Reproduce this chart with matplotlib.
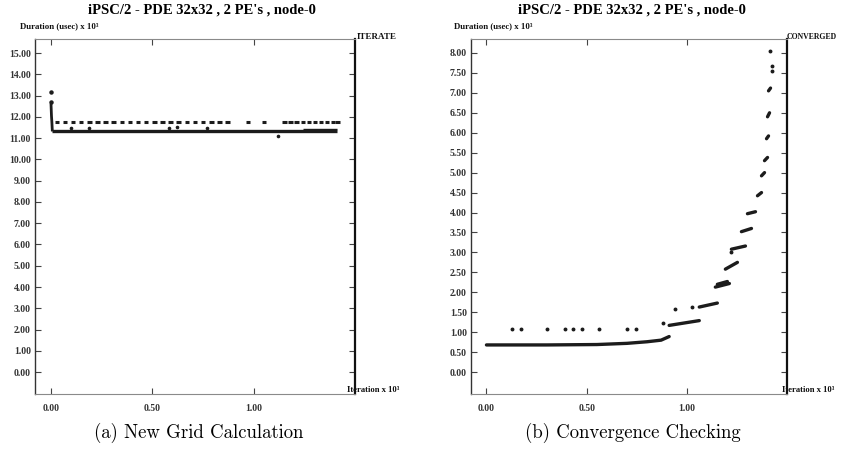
import matplotlib
matplotlib.use('Agg')
import matplotlib.pyplot as plt

# ---- data (iterations x 10^3, duration usec x 10^3) ----
title = "iPSC/2 - PDE 32x32 , 2 PE's , node-0"

# (a) new grid calculation
grid_spike_x = [0.000, 0.000]
grid_spike_y = [13.18, 12.68]
grid_drop_x = [0.002, 0.004, 0.006, 0.008]
grid_drop_y = [12.55, 12.05, 11.75, 11.38]
grid_low_y = 11.35
grid_low_span = [0.005, 1.41]
grid_low2_y = 11.43
grid_low2_span = [1.24, 1.41]
grid_up_y = 11.78
grid_up_x = [0.03, 0.07, 0.11, 0.15, 0.19, 0.23, 0.27, 0.31, 0.35, 0.39,
             0.43, 0.47, 0.51, 0.55, 0.59, 0.63, 0.67, 0.71, 0.75, 0.79,
             0.83, 0.87, 0.97, 1.05, 1.15, 1.18, 1.21, 1.24, 1.27, 1.30,
             1.33, 1.36, 1.39, 1.41]
grid_out_x = [0.10, 0.19, 0.58, 0.62, 0.77, 1.12]
grid_out_y = [11.48, 11.48, 11.48, 11.50, 11.48, 11.12]
grid_yticks = [0, 1, 2, 3, 4, 5, 6, 7, 8, 9, 10, 11, 12, 13, 14, 15]

# (b) convergence checking : short runs of iterations, one list per run
conv_runs_x = [[0.00, 0.30, 0.55, 0.70, 0.80, 0.87, 0.91],
               [0.91, 1.06],
               [1.06, 1.15],
               [1.14, 1.21],
               [1.15, 1.20],
               [1.19, 1.25],
               [1.22, 1.29],
               [1.27, 1.32],
               [1.30, 1.34],
               [1.35, 1.37],
               [1.37, 1.385],
               [1.385, 1.40],
               [1.395, 1.405],
               [1.40, 1.41],
               [1.405, 1.415]]
conv_runs_y = [[0.68, 0.68, 0.69, 0.72, 0.76, 0.80, 0.89],
               [1.17, 1.29],
               [1.63, 1.73],
               [2.13, 2.22],
               [2.20, 2.27],
               [2.58, 2.75],
               [3.08, 3.16],
               [3.52, 3.60],
               [3.97, 4.02],
               [4.42, 4.50],
               [4.92, 5.00],
               [5.30, 5.38],
               [5.85, 5.92],
               [6.40, 6.50],
               [7.05, 7.12]]
conv_out_x = [0.128, 0.171, 0.303, 0.39, 0.433, 0.476, 0.561, 0.70, 0.743,
              0.879, 0.94, 1.023, 1.22, 1.42, 1.42, 1.41]
conv_out_y = [1.08, 1.08, 1.08, 1.08, 1.08, 1.08, 1.08, 1.08, 1.08,
              1.23, 1.58, 1.64, 3.00, 7.55, 7.68, 8.05]
conv_yticks = [0.0, 0.5, 1.0, 1.5, 2.0, 2.5, 3.0, 3.5, 4.0, 4.5, 5.0,
               5.5, 6.0, 6.5, 7.0, 7.5, 8.0]

xticks = [0.0, 0.5, 1.0]

ink = '#1c1c1c'
serif = 'Liberation Serif'
W, H = 845, 449

fig = plt.figure(figsize=(W / 100, H / 100), dpi=100)
fig.patch.set_facecolor('white')

ax1 = fig.add_axes([35 / W, 1 - 394 / H, 320 / W, 355 / H])
ax2 = fig.add_axes([471 / W, 1 - 394 / H, 316 / W, 355 / H])


def style(ax, yticks, ylim):
    ax.set_xlim(-0.077, 1.497)
    ax.set_ylim(*ylim)
    ax.set_xticks(xticks)
    ax.set_xticklabels(['%.2f' % v for v in xticks])
    ax.set_yticks(yticks)
    ax.set_yticklabels(['%.2f' % v for v in yticks])
    ax.tick_params(direction='in', length=4, width=0.8, color='#444',
                   top=True, right=True, labelsize=7, pad=3)
    ax.tick_params(axis='x', pad=7)
    for lab in ax.get_xticklabels() + ax.get_yticklabels():
        lab.set_family(serif)
        lab.set_weight('bold')
        lab.set_color('#333')
    for s in ('top', 'bottom'):
        ax.spines[s].set_color('#8a8a8a')
        ax.spines[s].set_linewidth(0.8)
    ax.spines['left'].set_color('#333')
    ax.spines['left'].set_linewidth(1.0)
    ax.spines['right'].set_color('#111')
    ax.spines['right'].set_linewidth(1.6)


# ---- (a) ----
ax1.plot(grid_spike_x, grid_spike_y, 'o', ms=2.2, color=ink)
ax1.plot(grid_drop_x, grid_drop_y, color=ink, lw=2)
ax1.plot(grid_low_span, [grid_low_y, grid_low_y], color=ink, lw=2.4,
         solid_capstyle='butt')
ax1.plot(grid_low2_span, [grid_low2_y, grid_low2_y], color=ink, lw=1.0,
         solid_capstyle='butt')
for xc in grid_up_x:
    ax1.plot([xc - 0.011, xc + 0.011], [grid_up_y, grid_up_y], color=ink,
             lw=2.2, solid_capstyle='butt')
ax1.plot(grid_out_x, grid_out_y, 'o', ms=1.6, color=ink)
style(ax1, grid_yticks, (-1.03, 15.66))

# ---- (b) ----
for xs, ys in zip(conv_runs_x, conv_runs_y):
    ax2.plot(xs, ys, color=ink, lw=2.4, solid_capstyle='round')
ax2.plot(conv_out_x, conv_out_y, 'o', ms=1.8, color=ink)
style(ax2, conv_yticks, (-0.55, 8.35))

# ---- texts ----
def ftext(x, y, s, **kw):
    fig.text(x / W, 1 - y / H, s, **kw)


small = dict(family=serif, weight='bold', va='center', color='#111')
for x0, name, xr, fs in ((0, 'ITERATE', 357, 6.5), (436, 'CONVERGED', 787, 5.6)):
    ftext(202 + x0 * 0.986, 10, title, ha='center', va='center',
          family=serif, weight='bold', fontsize=10.5)
    ftext(20 + x0 * 0.996, 26, 'Duration (usec) x 10³', ha='left',
          fontsize=6.3, **small)
    ftext(xr, 37, name, ha='left', fontsize=fs, **small)
    ftext(xr - 10 if x0 == 0 else xr - 5, 390, 'Iteration x 10³', ha='left',
          fontsize=6.2, **small)

ftext(199, 433, '(a) New Grid Calculation', ha='center', va='center',
      family='cmr10', fontsize=13.5)
ftext(633, 433, '(b) Convergence Checking', ha='center', va='center',
      family='cmr10', fontsize=13.5)

fig.savefig('out.png', dpi=100)
